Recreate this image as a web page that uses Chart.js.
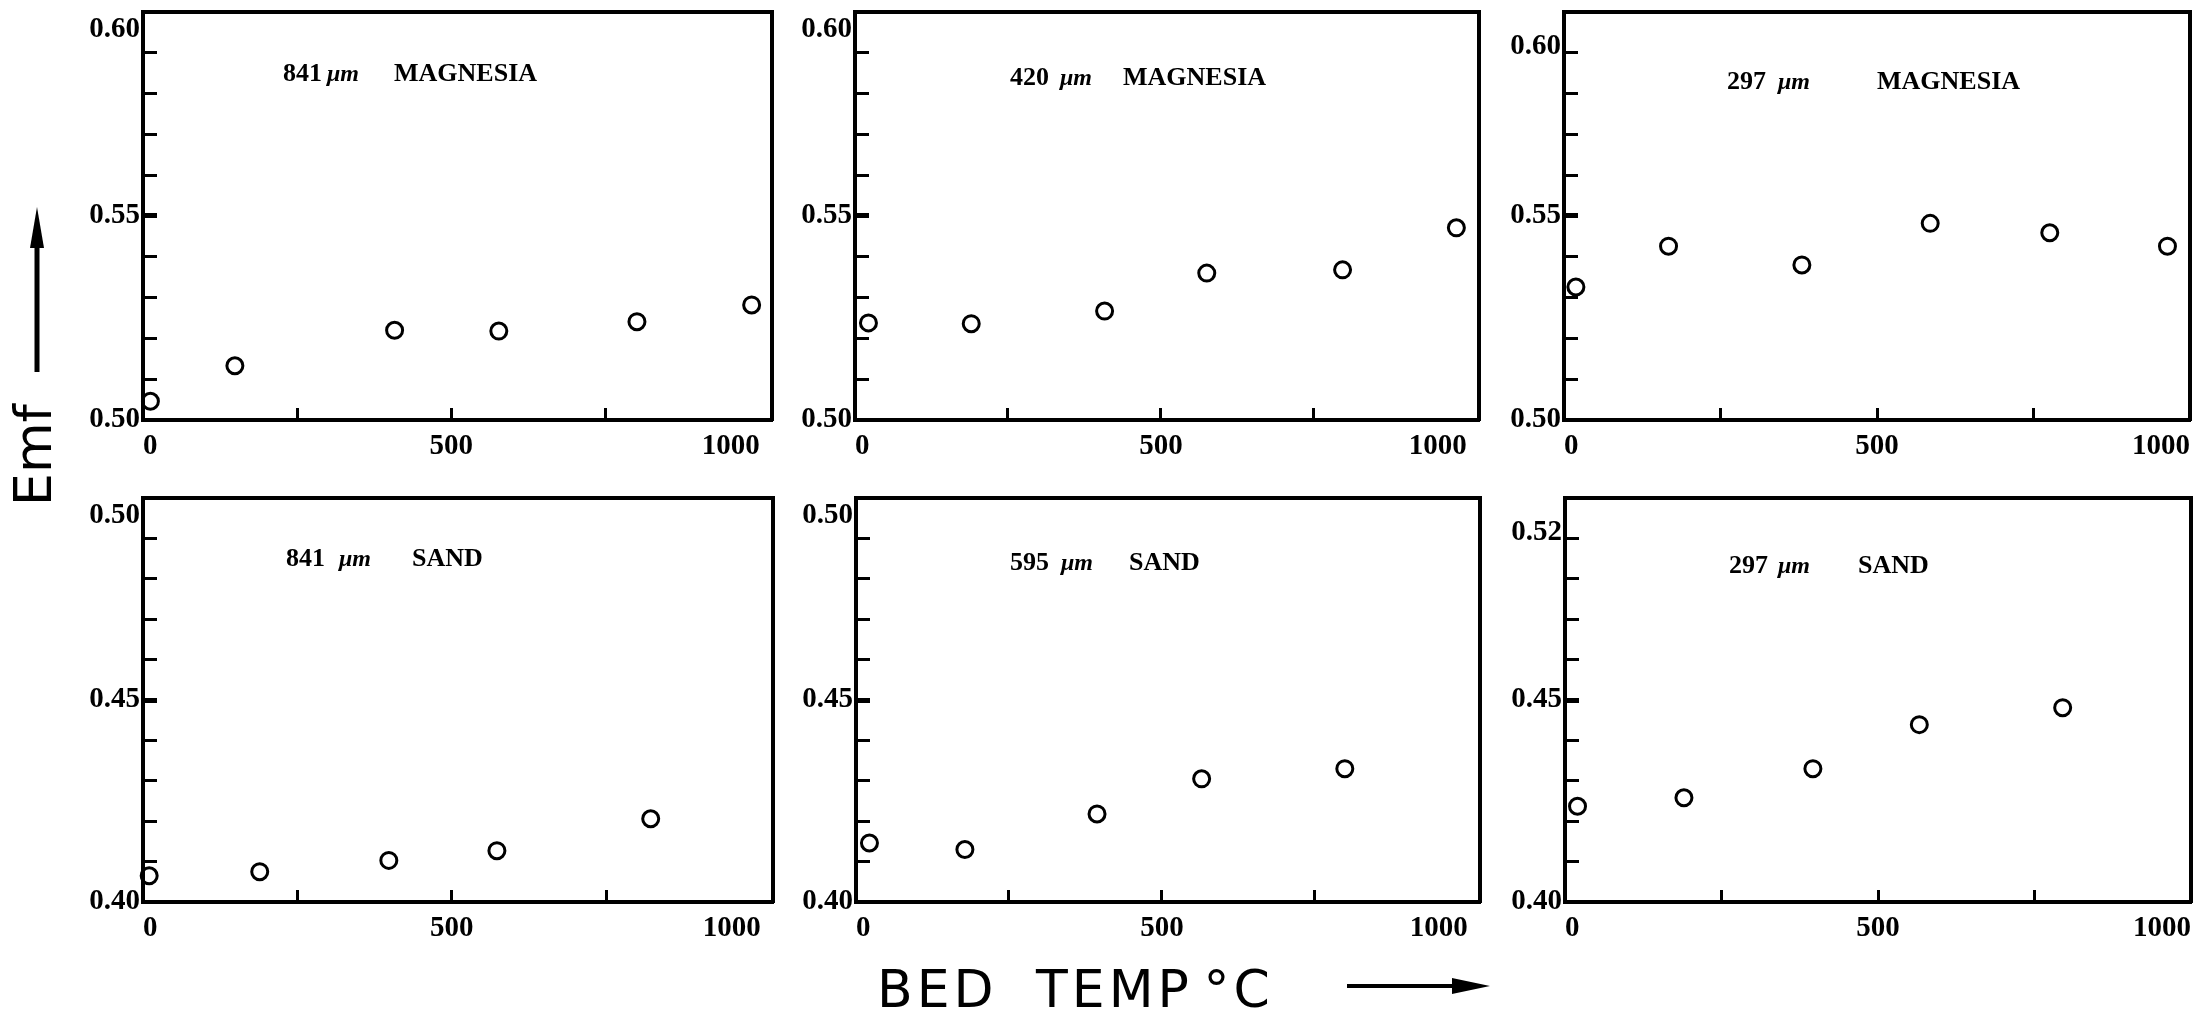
<!DOCTYPE html>
<html>
<head>
<meta charset="utf-8">
<script src="https://cdn.jsdelivr.net/npm/chart.js@4.4.1/dist/chart.umd.min.js"></script>
<style>
  html, body { margin: 0; padding: 0; background: #fff; }
  body { width: 2210px; height: 1017px; position: relative; overflow: hidden; }
  canvas.panel { position: absolute; }
  .ptitle { position: absolute; font-family: 'Liberation Serif', serif; font-weight: bold;
            font-size: 26px; line-height: 26px; color: #000; white-space: nowrap; }
  .ptitle i { font-size: 24px; }
  .axis-title { position: absolute; font-family: 'DejaVu Sans', sans-serif; color: #000; white-space: nowrap; }
  #ytitle { left: 33px; top: 455px; font-size: 52px; line-height: 52px;
            transform: translate(-50%, -50%) rotate(-90deg); }
  #xtitle { left: 877px; top: 963px; font-size: 52px; line-height: 52px; letter-spacing: 4px; word-spacing: 18px; }
  #xtitle .deg { margin-left: -28px; }
  svg.arrows { position: absolute; left: 0; top: 0; }
</style>
</head>
<body>
<div class="axis-title" id="ytitle">Emf</div>
<div class="axis-title" id="xtitle">BED TEMP <span class="deg">°C</span></div>
<svg class="arrows" width="2210" height="1017">
  <line x1="37" y1="372" x2="37" y2="240" stroke="#000" stroke-width="5"/>
  <polygon points="37,207 30,248 44,248" fill="#000"/>
  <line x1="1347" y1="986" x2="1458" y2="986" stroke="#000" stroke-width="4"/>
  <polygon points="1490,986 1452,978 1452,994" fill="#000"/>
</svg>
<script>
// Bed temperature (°C) and Emf readings for each bed material
const tempMag841 = [12, 149, 408, 577, 801, 987];
const emfMag841  = [0.5046, 0.5133, 0.5220, 0.5218, 0.5241, 0.5282];
const tempMag420 = [22, 190, 408, 575, 797, 983];
const emfMag420  = [0.5238, 0.5236, 0.5267, 0.5360, 0.5368, 0.5471];
const tempMag297 = [19, 167, 380, 585, 776, 964];
const emfMag297  = [0.5326, 0.5426, 0.5380, 0.5482, 0.5459, 0.5426];
const tempSand841 = [10, 189, 398, 573, 822];
const emfSand841  = [0.4065, 0.4075, 0.4103, 0.4127, 0.4206];
const tempSand595 = [22, 178, 394, 565, 799];
const emfSand595  = [0.4146, 0.4130, 0.4218, 0.4305, 0.4330];
const tempSand297 = [20, 190, 396, 566, 795];
const emfSand297  = [0.4237, 0.4258, 0.4330, 0.4439, 0.4481];

// Axis ticks and labels
const xTickValues = [0, 250, 500, 750, 1000];
const xTickMarks = [250, 500, 750];
const xLabelValues = [0, 500, 1000];
const xTickLabels = ['0', '500', '1000'];
const yLabelValuesMag = [0.50, 0.55, 0.60];
const yTickLabelsMag = ['0.50', '0.55', '0.60'];
const yLabelValuesSand = [0.40, 0.45, 0.50];
const yTickLabelsSand = ['0.40', '0.45', '0.50'];
const yTickLabelsSand297 = ['0.40', '0.45', '0.52'];

// Panel captions
const particleSizes = ['841', '420', '297', '841', '595', '297'];
const materials = ['MAGNESIA', 'MAGNESIA', 'MAGNESIA', 'SAND', 'SAND', 'SAND'];

// Layout of the six panels: plot box [left, top, right, bottom] and caption placement
const panels = [
  { temps: tempMag841,  emf: emfMag841,  yMin: 0.50, yMax: 0.60, yVals: yLabelValuesMag,  yLabels: yTickLabelsMag,     xMax: 1020,
    box: [143, 12, 772, 420],  cap: [283, 60],  gaps: [5, 35],  topLift: 1 },
  { temps: tempMag420,  emf: emfMag420,  yMin: 0.50, yMax: 0.60, yVals: yLabelValuesMag,  yLabels: yTickLabelsMag,     xMax: 1020,
    box: [855, 12, 1479, 420], cap: [1010, 64], gaps: [11, 31], topLift: 1 },
  { temps: tempMag297,  emf: emfMag297,  yMin: 0.50, yMax: 0.60, yVals: yLabelValuesMag,  yLabels: yTickLabelsMag,     xMax: 1000,
    box: [1564, 12, 2190, 420], cap: [1727, 68], gaps: [12, 67], topLift: 2 },
  { temps: tempSand841, emf: emfSand841, yMin: 0.40, yMax: 0.50, yVals: yLabelValuesSand, yLabels: yTickLabelsSand,    xMax: 1020,
    box: [143, 498, 773, 902], cap: [286, 545], gaps: [14, 41], topLift: 1 },
  { temps: tempSand595, emf: emfSand595, yMin: 0.40, yMax: 0.50, yVals: yLabelValuesSand, yLabels: yTickLabelsSand,    xMax: 1020,
    box: [856, 498, 1480, 902], cap: [1010, 549], gaps: [12, 36], topLift: 1 },
  { temps: tempSand297, emf: emfSand297, yMin: 0.40, yMax: 0.50, yVals: yLabelValuesSand, yLabels: yTickLabelsSand297, xMax: 1000,
    box: [1565, 498, 2191, 902], cap: [1729, 552], gaps: [10, 48], topLift: 2 }
];

const tickFont = { family: "'Liberation Serif', serif", size: 29, weight: 'bold' };
const frame = { display: true, color: '#000', width: 4 };

function buildPanel(p, idx) {
  const [L, T, R, B] = p.box;
  // generous margins so tick labels never push the plot box around
  const padL = 100, padT = 70, padR = 70, padB = 70;
  const cv = document.createElement('canvas');
  cv.className = 'panel';
  cv.width = R - L + padL + padR;
  cv.height = B - T + padT + padB;
  cv.style.left = (L - padL) + 'px';
  cv.style.top = (T - padT) + 'px';
  cv.style.width = cv.width + 'px';
  cv.style.height = cv.height + 'px';
  document.body.appendChild(cv);

  const points = p.temps.map((t, i) => ({ x: t, y: p.emf[i] }));
  const nSteps = Math.round((p.yMax - p.yMin) / 0.01);
  const yTicks = Array.from({ length: nSteps + 1 }, (_, i) => +(p.yMin + i * 0.01).toFixed(2));

  new Chart(cv, {
    type: 'scatter',
    data: {
      datasets: [{
        data: points,
        xAxisID: 'x', yAxisID: 'y',
        showLine: false,
        clip: false,
        pointStyle: 'circle',
        pointRadius: 8,
        pointBorderWidth: 3,
        pointBorderColor: '#000',
        pointBackgroundColor: 'rgba(0,0,0,0)'
      }]
    },
    options: {
      responsive: false,
      animation: false,
      devicePixelRatio: 1,
      events: [],
      layout: { padding: { left: 0, top: padT, right: padR, bottom: 0 } },
      plugins: { legend: { display: false }, tooltip: { enabled: false }, title: { display: false } },
      scales: {
        x: {
          type: 'linear', position: 'bottom', min: 0, max: p.xMax, bounds: 'data',
          afterBuildTicks: ax => { ax.ticks = xTickValues.map(v => ({ value: v })); },
          afterFit: ax => { ax.height = padB; },
          ticks: {
            autoSkip: false, maxRotation: 0, minRotation: 0, padding: 21, align: 'inner',
            color: '#000', font: tickFont,
            callback: v => { const k = xLabelValues.indexOf(v); return k < 0 ? '' : xTickLabels[k]; }
          },
          grid: {
            display: true, drawOnChartArea: false, drawTicks: true, tickLength: -12, tickWidth: 3,
            tickColor: c => (c.tick && xTickMarks.includes(c.tick.value)) ? '#000' : 'rgba(0,0,0,0)'
          },
          border: frame
        },
        y: {
          type: 'linear', position: 'left', min: p.yMin, max: p.yMax, bounds: 'data',
          afterBuildTicks: ax => { ax.ticks = yTicks.map(v => ({ value: v })); },
          afterFit: ax => { ax.width = padL; },
          ticks: {
            autoSkip: false, padding: 17, color: '#000', font: tickFont,
            callback: v => {
              const k = p.yVals.findIndex(u => Math.abs(u - v) < 1e-6);
              if (k < 0) return '';
              const label = p.yLabels[k];
              if (Math.abs(v - p.yMax) < 1e-6 && p.topLift) {
                return Array(p.topLift).fill('').concat([label]);
              }
              return label;
            }
          },
          grid: {
            display: true, drawOnChartArea: false, drawTicks: true, tickLength: -14, tickColor: '#000',
            tickWidth: c => (c.tick && Math.abs(c.tick.value - (p.yMin + 0.05)) < 1e-6) ? 5 : 3
          },
          border: frame
        },
        xTop: {
          type: 'linear', position: 'top', display: true, min: 0, max: 1,
          ticks: { display: false }, grid: { display: false, drawTicks: false },
          border: frame, afterFit: ax => { ax.height = 0; }
        },
        yRight: {
          type: 'linear', position: 'right', display: true, min: 0, max: 1,
          ticks: { display: false }, grid: { display: false, drawTicks: false },
          border: frame, afterFit: ax => { ax.width = 0; }
        }
      }
    }
  });

  // Caption inside the plot box
  const cap = document.createElement('div');
  cap.className = 'ptitle';
  cap.style.left = p.cap[0] + 'px';
  cap.style.top = p.cap[1] + 'px';
  cap.innerHTML = '<span>' + particleSizes[idx] + '</span>' +
    '<i style="margin-left:' + p.gaps[0] + 'px">\u03bcm</i>' +
    '<span style="margin-left:' + p.gaps[1] + 'px">' + materials[idx] + '</span>';
  document.body.appendChild(cap);
}

panels.forEach(buildPanel);
</script>
</body>
</html>
